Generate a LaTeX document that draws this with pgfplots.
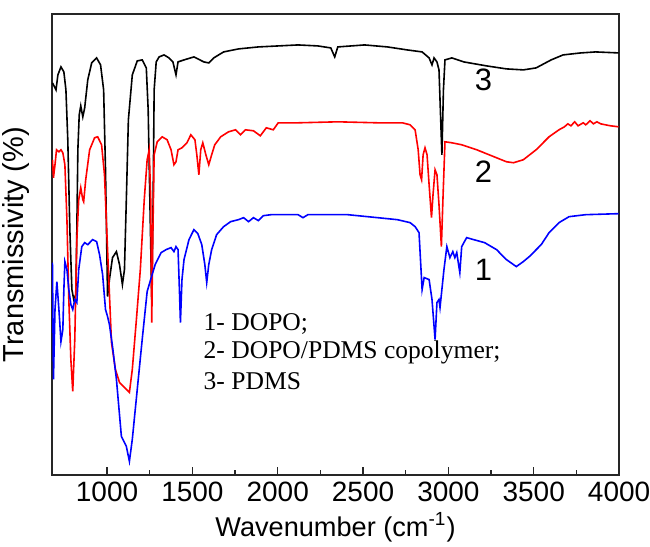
\documentclass[border=0pt]{standalone}
\usepackage{pgfplots}
\pgfplotsset{compat=1.18}
\usepackage{fontspec}
\setmainfont{Liberation Sans}
\newfontfamily\legserif{Liberation Serif}

\pgfplotstableread{
x y
680 393
701 386
712 401
730 409
747 404
759 386
770 336
782 246
794 186
805 176
817 181
823 246
829 326
837 361
846 370
858 359
869 368
887 396
910 413
939 418
962 411
980 386
991 306
1003 179
1014 196
1032 218
1055 224
1073 211
1090 191
1102 206
1113 276
1125 356
1148 401
1177 415
1206 416
1230 408
1241 366
1253 256
1262 176
1270 276
1276 386
1288 414
1305 419
1334 421
1363 418
1386 414
1404 401
1416 414
1451 416
1509 419
1567 414
1596 413
1625 418
1683 424
1770 427
1887 429
2003 430
2119 431
2235 430
2311 428
2334 419
2352 429
2509 431
2643 429
2759 426
2846 424
2887 418
2904 411
2916 418
2933 414
2945 406
2953 366
2962 321
2971 386
2980 416
3020 418
3090 414
3224 410
3340 407
3439 406
3514 408
3602 416
3672 421
3776 423
3863 424
3997 423
}\pdms

\pgfplotstableread{
x y
680 316
686 298
695 311
704 326
718 324
730 326
741 323
753 311
765 256
776 176
788 116
799 84
811 136
823 236
834 276
846 288
858 276
863 274
875 296
898 326
927 338
945 339
968 331
985 301
1003 226
1026 133
1049 106
1073 93
1102 88
1131 83
1148 106
1172 156
1195 206
1218 276
1235 316
1247 326
1256 276
1262 153
1267 226
1276 321
1294 334
1323 339
1352 336
1375 326
1392 311
1404 314
1416 326
1439 328
1468 333
1491 341
1515 336
1526 321
1538 301
1549 326
1561 333
1579 321
1596 311
1613 321
1631 331
1666 339
1712 344
1753 346
1782 341
1811 346
1858 345
1898 340
1933 348
1974 346
2003 353
2119 353
2352 354
2585 353
2730 353
2776 351
2805 346
2823 326
2834 301
2843 296
2852 321
2863 328
2875 321
2887 291
2901 258
2910 281
2922 306
2933 301
2945 271
2959 229
2968 276
2980 334
3020 333
3078 331
3166 326
3253 320
3340 314
3381 313
3439 316
3514 326
3590 339
3648 346
3680 349
3700 352
3718 350
3740 354
3760 350
3790 353
3805 351
3830 355
3850 352
3870 354
3892 352
3920 351
3950 350
3997 349
}\copoly

\pgfplotstableread{
x y
680 213
686 96
695 166
706 194
718 166
730 134
741 146
747 186
753 214
765 206
776 186
788 171
799 166
811 176
823 173
834 206
852 229
869 233
887 231
916 236
939 234
956 221
974 201
991 166
1003 159
1014 151
1032 129
1055 96
1084 39
1113 29
1131 14
1148 36
1177 86
1206 136
1235 184
1259 198
1282 211
1317 223
1346 226
1375 228
1392 224
1404 229
1416 226
1424 186
1430 153
1439 196
1451 216
1480 236
1509 246
1532 242
1555 231
1573 211
1584 193
1596 211
1613 226
1642 241
1683 249
1724 254
1770 256
1800 258
1829 254
1858 258
1887 255
1916 260
1962 261
2119 261
2148 258
2177 261
2410 261
2701 256
2776 253
2805 249
2828 243
2846 186
2858 198
2887 196
2904 176
2922 136
2933 173
2945 176
2951 168
2974 206
2991 229
3009 218
3026 224
3038 218
3049 223
3067 203
3078 229
3107 238
3148 236
3212 233
3282 226
3340 216
3398 209
3439 214
3474 219
3544 231
3590 243
3648 253
3707 259
3805 261
3997 262
}\dopo

\begin{document}
\begin{tikzpicture}
\begin{axis}[
  scale only axis,
  width=284pt, height=231pt,
  xmin=677, xmax=4000,
  ymin=0, ymax=462,
  xtick={1000,1500,2000,2500,3000,3500,4000},
  minor x tick num=1,
  xtick pos=bottom,
  ytick=\empty,
  tick align=inside,
  major tick length=4pt,
  minor tick length=2.5pt,
  every tick/.style={black!85, line width=0.7pt},
  axis line style={black!85, line width=0.8pt},
  /pgf/number format/assume math mode=true,
  /pgf/number format/1000 sep={},
  tick label style={font=\fontsize{14}{16}\selectfont},
  xlabel={Wavenumber (cm\textsuperscript{-1})},
  ylabel={Transmissivity (\%)},
  every axis x label/.style={at={(axis description cs:0.5,-0.113)}, anchor=center, font=\fontsize{13.6}{16}\selectfont},
  every axis y label/.style={at={(axis description cs:-0.064,0.5)}, rotate=90, anchor=center, font=\fontsize{14.5}{17}\selectfont},
  clip=true,
]
\addplot[black, line width=0.8pt] table[x=x,y=y] {\pdms};
\addplot[red, line width=0.8pt] table[x=x,y=y] {\copoly};
\addplot[blue, line width=0.8pt] table[x=x,y=y] {\dopo};
\node[font=\fontsize{15.5}{17}\selectfont] at (axis cs:3206,396) {3};
\node[font=\fontsize{15.5}{17}\selectfont] at (axis cs:3206,304) {2};
\node[font=\fontsize{15.5}{17}\selectfont] at (axis cs:3206,206) {1};
\node[anchor=west, font=\legserif\fontsize{12.8}{15}\selectfont] at (axis cs:1525,152) {1- DOPO;};
\node[anchor=west, font=\legserif\fontsize{12.8}{15}\selectfont] at (axis cs:1525,123) {2- DOPO/PDMS copolymer;};
\node[anchor=west, font=\legserif\fontsize{12.8}{15}\selectfont] at (axis cs:1525,94) {3- PDMS};
\end{axis}
\pgfresetboundingbox
\path (-26pt,-35.5pt) rectangle (299.5pt,238pt);
\end{tikzpicture}
\end{document}
